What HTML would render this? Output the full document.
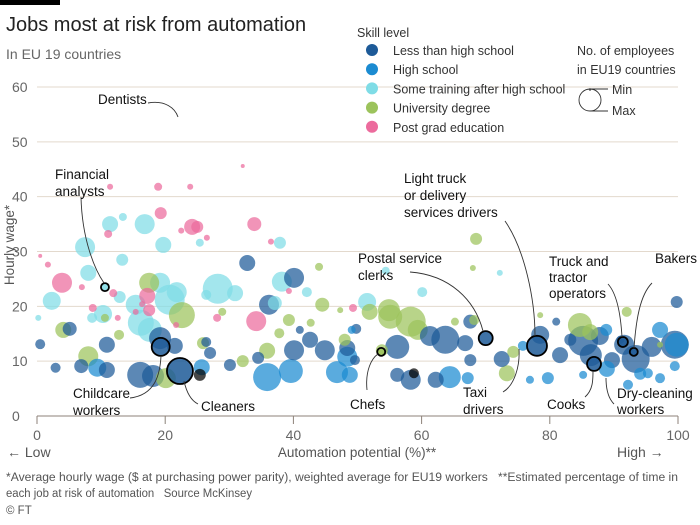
<!DOCTYPE html>
<html><head><meta charset="utf-8">
<style>
html,body{margin:0;padding:0;background:#fff;}
body{width:700px;height:520px;overflow:hidden;font-family:"Liberation Sans",sans-serif;}
svg text{font-family:"Liberation Sans",sans-serif;}
</style></head>
<body>
<svg id="chart" width="700" height="520" viewBox="0 0 700 520">
  <rect x="0" y="0" width="60" height="5" fill="#000"/>
  <text x="6" y="31" font-size="20" fill="#222">Jobs most at risk from automation</text>
  <text x="6" y="59" font-size="14" fill="#666">In EU 19 countries</text>
  <g id="grid"></g>
  <g id="bubbles"></g>
  <g id="annotations" fill="none" stroke="#333" stroke-width="0.9">
    <path d="M148,103 C165,100 175,108 178,117"/>
    <path d="M81,197 C82,240 95,270 104,283"/>
    <path d="M130,398 C155,395 160,375 161,356"/>
    <path d="M198,404 C190,400 186,390 184,381"/>
    <path d="M367,390 C365,370 372,358 378,354"/>
    <path d="M410,272 C450,275 475,300 483,331"/>
    <path d="M505,221 C525,250 535,300 535,336"/>
    <path d="M503,392 C515,385 520,365 519,349"/>
    <path d="M585,397 C593,390 593,380 593,371"/>
    <path d="M608,284 C618,295 621,320 622,337"/>
    <path d="M652,283 C640,295 636,320 634,348"/>
    <path d="M614,404 C608,398 606,388 606,378"/>
  </g>
  <g font-size="13.5" fill="#111">
    <text x="98" y="104">Dentists</text>
    <text x="55" y="179"><tspan x="55">Financial</tspan><tspan x="55" dy="17">analysts</tspan></text>
    <text x="73" y="398"><tspan x="73">Childcare</tspan><tspan x="73" dy="17">workers</tspan></text>
    <text x="201" y="411">Cleaners</text>
    <text x="350" y="409">Chefs</text>
    <text x="358" y="263"><tspan x="358">Postal service</tspan><tspan x="358" dy="17">clerks</tspan></text>
    <text x="404" y="183"><tspan x="404">Light truck</tspan><tspan x="404" dy="17">or delivery</tspan><tspan x="404" dy="17">services drivers</tspan></text>
    <text x="463" y="397"><tspan x="463">Taxi</tspan><tspan x="463" dy="17">drivers</tspan></text>
    <text x="547" y="409">Cooks</text>
    <text x="549" y="266"><tspan x="549">Truck and</tspan><tspan x="549" dy="16">tractor</tspan><tspan x="549" dy="16">operators</tspan></text>
    <text x="655" y="263">Bakers</text>
    <text x="617" y="398"><tspan x="617">Dry-cleaning</tspan><tspan x="617" dy="16">workers</tspan></text>
  </g>
  <g id="legend" font-size="12.5" fill="#333"></g>
  <g>
    <text x="577" y="55" font-size="12.5" fill="#333"><tspan x="577">No. of employees</tspan><tspan x="577" dy="19">in EU19 countries</tspan></text>
    <circle cx="590" cy="100" r="11" fill="none" stroke="#333" stroke-width="0.9"/>
    <circle cx="590" cy="89.5" r="0.8" fill="none" stroke="#333" stroke-width="0.8"/>
    <line x1="590" y1="89" x2="608" y2="89" stroke="#333" stroke-width="0.9"/>
    <line x1="590" y1="111" x2="608" y2="111" stroke="#333" stroke-width="0.9"/>
    <text x="612" y="94" font-size="12.5" fill="#333">Min</text>
    <text x="612" y="115" font-size="12.5" fill="#333">Max</text>
  </g>
  <g font-size="11.5" fill="#555">
    <text x="6" y="481" xml:space="preserve" textLength="672" lengthAdjust="spacingAndGlyphs">*Average hourly wage ($ at purchasing power parity), weighted average for EU19 workers   **Estimated percentage of time in</text>
    <text x="6" y="497" xml:space="preserve" textLength="246" lengthAdjust="spacingAndGlyphs">each job at risk of automation   Source McKinsey</text>
    <text x="6" y="514">© FT</text>
  </g>
</svg>
<script>
const levelNames = ["Less than high school","High school","Some training after high school","University degree","Post grad education"];
const levelColors = ["#1d5a98","#1b8bd1","#7fdce6","#9cc35c","#ec6b9d"];
const yTicks = [0,10,20,30,40,50,60];
const xTicks = [0,20,40,60,80,100];
// points: automation %, hourly wage, employees (relative), skill level
const xs = [3.9,1.7,18.9,23.9,19.3,24.2,25.0,33.9,11.4,22.5,34.2,17.2,11.1,7.0,17.5,11.9,15.4,16.4,12.6,36.5,39.3,49.3,32.1,0.5,26.5,21.7,28.1,8.7,
 7.5,11.4,16.8,13.4,13.3,19.2,19.7,28.2,30.9,38.2,37.9,2.3,8.0,15.4,20.7,21.8,8.6,16.2,10.3,17.6,42.1,54.4,60.1,51.5,72.2,0.2,26.4,25.4,37.1,12.9,
 17.5,22.6,12.8,8.0,20.1,25.9,32.1,35.9,37.8,39.3,42.7,44.0,47.3,51.9,54.9,58.3,59.4,53.8,55.1,68.2,68.5,68.0,74.3,73.3,84.7,86.3,97.2,92.0,78.5,4.1,10.6,28.9,44.5,48.0,65.2,91.0,81.0,
 5.1,10.9,10.9,6.9,16.1,18.1,19.2,21.5,27.0,26.4,32.8,36.2,40.1,40.1,42.6,44.9,48.4,56.2,61.3,63.7,67.6,78.5,85.2,86.4,87.8,89.7,91.6,93.4,95.9,99.5,99.8,49.8,41.0,58.3,49.6,67.6,72.5,62.2,56.2,34.5,30.1,2.9,0.5,66.8,81.6,83.2,88.8,97.2,
 9.4,25.7,35.9,39.6,46.8,48.8,64.4,67.2,75.8,85.2,88.9,94.1,99.8,99.5,97.2,95.3,49.1,76.9,92.2,48.4,79.7,25.4,58.8];
const ys = [24.3,27.6,41.8,41.8,37.0,34.5,34.5,35.0,41.8,33.8,17.3,21.9,33.2,23.5,19.3,22.4,19.0,20.4,17.9,31.8,22.8,19.7,45.6,29.2,32.5,16.6,17.9,19.7,
 30.8,35.0,35.0,36.3,28.5,24.3,31.2,23.2,22.4,24.5,31.6,21.0,26.1,20.3,21.2,22.6,17.9,17.0,18.6,15.7,22.6,26.5,22.6,20.8,26.1,17.9,22.1,31.6,20.6,21.7,
 24.3,18.4,14.8,10.9,6.9,13.3,10.0,11.9,15.1,17.5,17.0,27.2,19.3,19.0,19.3,17.2,15.7,12.0,18.1,17.5,32.3,27.0,11.7,7.8,16.6,15.3,13.0,19.0,18.4,15.7,17.9,19.0,20.3,13.9,17.2,13.9,17.2,
 15.9,13.0,8.4,9.1,7.5,7.3,14.2,12.8,11.5,13.5,27.9,20.3,25.2,12.0,13.9,12.0,12.4,12.6,14.6,13.9,17.2,14.8,13.7,11.1,14.6,10.2,13.0,10.4,12.6,13.0,20.8,15.9,15.7,6.6,10.2,10.2,10.4,6.6,7.5,10.6,9.3,8.8,13.1,13.3,11.1,13.9,15.7,15.7,
 8.8,8.9,7.1,8.2,8.0,7.5,7.1,6.9,12.8,7.5,8.6,7.7,13.0,9.1,6.9,7.8,15.7,6.6,5.7,10.8,6.9,7.5,7.8];
const sizes = [100,9,16,9,36,64,36,49,9,9,100,64,16,9,36,16,9,9,9,9,9,16,4,4,9,9,16,16,
 100,64,100,16,36,100,64,225,64,100,36,81,64,100,225,100,25,169,81,144,25,16,25,81,9,9,25,16,49,36,
 100,169,25,100,100,36,36,64,25,36,16,16,9,64,121,225,100,36,144,25,36,9,36,64,144,64,9,25,9,64,16,16,49,36,16,16,16,
 49,64,64,49,169,121,121,64,36,25,64,100,100,100,64,100,64,144,100,196,49,81,225,121,81,64,100,196,100,196,36,25,16,100,25,36,64,64,49,36,36,25,25,64,64,36,36,64,
 81,64,196,144,121,64,121,36,25,16,64,36,144,25,25,25,16,16,25,100,36,36,25];
const levels = [4,4,4,4,4,4,4,4,4,4,4,4,4,4,4,4,4,4,4,4,4,4,4,4,4,4,4,4,
 2,2,2,2,2,2,2,2,2,2,2,2,2,2,2,2,2,2,2,2,2,2,2,2,2,2,2,2,2,2,
 3,3,3,3,3,3,3,3,3,3,3,3,3,3,3,3,3,3,3,3,3,3,3,3,3,3,3,3,3,3,3,3,3,3,3,
 0,0,0,0,0,0,0,0,0,0,0,0,0,0,0,0,0,0,0,0,0,0,0,0,0,0,0,0,0,0,0,0,0,0,0,0,0,0,0,0,0,0,0,0,0,0,0,0,
 1,1,1,1,1,1,1,1,1,1,1,1,1,1,1,1,1,1,1,1,1,1,1];
// highlighted jobs
const hlNames = ["financial-analysts","childcare-workers","cleaners","chefs","postal-service-clerks","light-truck-drivers","truck-tractor-operators","bakers","cooks"];
const hlX = [10.6,19.3,22.3,53.7,70.0,78.0,91.4,93.1,86.9];
const hlY = [23.5,12.6,8.2,11.7,14.2,12.8,13.5,11.7,9.5];
const hlSize = [16,81,169,16,49,100,25,16,49];
const hlLevel = [2,0,0,3,0,0,0,0,0];

const NS = "http://www.w3.org/2000/svg";
const X0 = 37, X1 = 678, Y0 = 416, Y1 = 87;
function xScale(v){ return X0 + (v/100)*(X1-X0); }
function yScale(v){ return Y0 - (v/60)*(Y0-Y1); }
function rScale(s){ return Math.sqrt(s); }
function mk(tag, attrs, parent){ const e=document.createElementNS(NS,tag); for(const k in attrs) e.setAttribute(k,attrs[k]); parent.appendChild(e); return e; }

const grid = document.getElementById("grid");
yTicks.forEach(t=>{
  const y = yScale(t);
  const ln = mk("line",{x1:X0,x2:X1,y1:y,y2:y,stroke:t===0?"#8c8279":"#e3d9cd","stroke-width":1},grid);
  
  
  const tx = mk("text",{x:12,y:y+5,"font-size":14,fill:"#666"},grid);
  tx.textContent = t;
  
  
});
xTicks.forEach(t=>{
  const x = xScale(t);
  const ln = mk("line",{x1:x,x2:x,y1:Y0,y2:Y0+8,stroke:"#8c8279","stroke-width":1},grid);
  
  
  const tx = mk("text",{x:x,y:Y0+24,"font-size":14,fill:"#666","text-anchor":"middle"},grid);
  tx.textContent = t;
  
  
});
const xt = mk("text",{x:357,y:457,"font-size":13.5,fill:"#555","text-anchor":"middle"},grid);
xt.textContent = "Automation potential (%)**";


const lo = mk("text",{x:7,y:457,"font-size":14,fill:"#555"},grid);
lo.textContent = "← Low";


const hi = mk("text",{x:617,y:457,"font-size":14,fill:"#555"},grid);
hi.textContent = "High →";


const yt = mk("text",{x:0,y:0,"font-size":13.5,fill:"#555","text-anchor":"middle",transform:"translate(14,245) rotate(-90)"},grid);
yt.textContent = "Hourly wage*";



const bub = document.getElementById("bubbles");
const order = xs.map((_,i)=>i).sort((a,b)=>sizes[b]-sizes[a]);
order.forEach(i=>{
  const c = mk("circle",{cx:xScale(xs[i]),cy:yScale(ys[i]),r:rScale(sizes[i]),fill:levelColors[levels[i]],"fill-opacity":0.72},bub);
  
  
});
hlNames.forEach((n,i)=>{
  const c = mk("circle",{cx:xScale(hlX[i]),cy:yScale(hlY[i]),r:rScale(hlSize[i]),fill:levelColors[hlLevel[i]],"fill-opacity":0.85,stroke:"#000","stroke-width":1.8},bub);
  
  
});

const lg = document.getElementById("legend");
const lt = mk("text",{x:357,y:37},lg);
lt.textContent = "Skill level";


levelNames.forEach((n,i)=>{
  const y = 50 + i*19.2;
  const c = mk("circle",{cx:372,cy:y,r:6,fill:levelColors[i]},lg);
  
  
  const t = mk("text",{x:393,y:y+5},lg);
  t.textContent = n;
  
  
});
</script>
</body></html>
